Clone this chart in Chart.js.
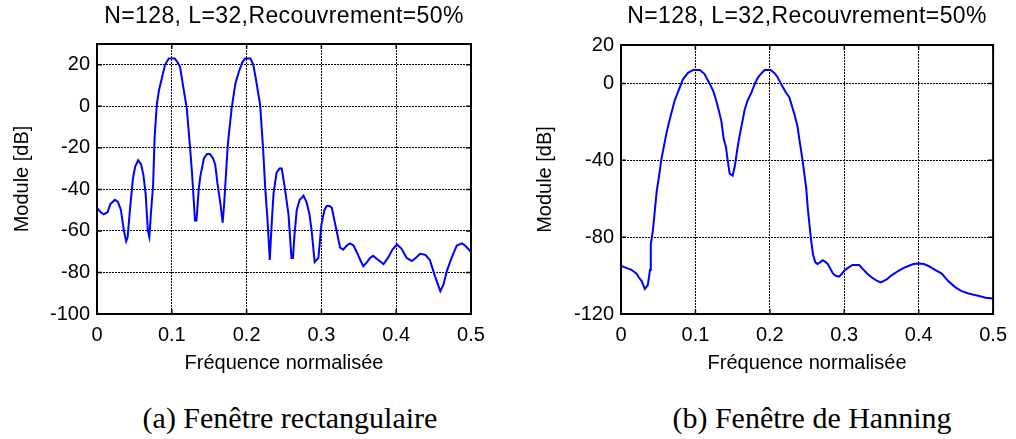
<!DOCTYPE html>
<html>
<head>
<meta charset="utf-8">
<script src="https://cdn.jsdelivr.net/npm/chart.js@4"></script>
<style>
  body { margin: 0; background: #fff; width: 1016px; height: 439px; overflow: hidden; position: relative; }
  .box { position: absolute; top: 0; }
  .caption {
    position: absolute; top: 403px; width: 400px; text-align: center;
    font-family: 'Liberation Serif', 'Times New Roman', serif; font-size: 30px; line-height: 30px; color: #000;
  }
</style>
</head>
<body>
<div class="box" style="left:0"><canvas id="chartA" width="508" height="390"></canvas></div>
<div class="box" style="left:508px"><canvas id="chartB" width="508" height="390"></canvas></div>
<div class="caption" style="left:90px">(a) Fenêtre rectangulaire</div>
<div class="caption" style="left:612px">(b) Fenêtre de Hanning</div>

<script>
// shared
const chartTitle = 'N=128, L=32,Recouvrement=50%';
const xTicks = [0, 0.1, 0.2, 0.3, 0.4, 0.5];

// (a) rectangular window
const freqA = [0, 0.005, 0.009, 0.014, 0.018, 0.024, 0.028, 0.032, 0.036, 0.039, 0.041, 0.044, 0.048, 0.051,
  0.055, 0.059, 0.062, 0.065, 0.068, 0.070, 0.072, 0.075, 0.077, 0.080, 0.083, 0.087, 0.091, 0.096, 0.104,
  0.108, 0.111, 0.115, 0.120, 0.124, 0.127, 0.131, 0.133, 0.136, 0.138, 0.143, 0.147, 0.151, 0.155, 0.158,
  0.161, 0.165, 0.168, 0.170, 0.172, 0.175, 0.180, 0.185, 0.190, 0.194, 0.198, 0.205, 0.209, 0.212, 0.218,
  0.222, 0.225, 0.228, 0.231, 0.233, 0.236, 0.240, 0.244, 0.247, 0.251, 0.256, 0.260, 0.262, 0.264, 0.267,
  0.271, 0.274, 0.276, 0.280, 0.284, 0.287, 0.291, 0.296, 0.300, 0.304, 0.307, 0.311, 0.314, 0.318, 0.325,
  0.329, 0.334, 0.338, 0.343, 0.347, 0.352, 0.356, 0.361, 0.365, 0.369, 0.376, 0.383, 0.389, 0.395, 0.401,
  0.407, 0.414, 0.421, 0.426, 0.432, 0.439, 0.445, 0.452, 0.459, 0.463, 0.468, 0.474, 0.481, 0.488, 0.492, 0.5];
const dbA = [-49, -51, -52, -51, -47, -45, -46, -50, -60, -65, -63, -50, -35, -29,
  -26, -28, -33, -42, -60, -63, -52, -38, -15, 1, 8, 14, 20, 23, 23,
  21, 19, 10, -1, -18, -32, -55, -55, -40, -34, -25, -23, -23, -25, -28,
  -37, -47, -56, -47, -35, -18, -1, 11, 17, 21, 23, 23, 20, 14, 1,
  -20, -40, -55, -74, -60, -42, -32, -30, -30, -39, -52, -73, -73, -62, -50,
  -45, -44, -43, -46, -52, -60, -75, -73, -57, -50, -48, -48, -49, -56, -68,
  -69, -67, -66, -67, -70, -74, -77, -75, -73, -72, -74, -76, -73, -69, -66.5,
  -68.5, -73, -74.5, -73, -71, -71.5, -74, -82, -89, -86, -79, -73, -67, -66, -67, -70];
const yTicksA = [-100, -80, -60, -40, -20, 0, 20];

// (b) Hanning window
const freqB = [0, 0.007, 0.014, 0.021, 0.024, 0.028, 0.032, 0.036, 0.039, 0.040, 0.043, 0.045, 0.048, 0.052,
  0.054, 0.058, 0.061, 0.066, 0.072, 0.079, 0.083, 0.090, 0.097, 0.106, 0.112, 0.119, 0.124, 0.128, 0.132,
  0.135, 0.138, 0.141, 0.143, 0.146, 0.150, 0.153, 0.156, 0.159, 0.163, 0.166, 0.170, 0.175, 0.180, 0.184,
  0.188, 0.193, 0.201, 0.206, 0.210, 0.216, 0.222, 0.226, 0.233, 0.237, 0.240, 0.244, 0.246, 0.249, 0.251,
  0.255, 0.258, 0.261, 0.264, 0.268, 0.271, 0.275, 0.278, 0.282, 0.285, 0.288, 0.293, 0.297, 0.300, 0.305,
  0.311, 0.320, 0.326, 0.331, 0.337, 0.343, 0.349, 0.357, 0.363, 0.373, 0.380, 0.386, 0.393, 0.400, 0.407,
  0.413, 0.422, 0.431, 0.440, 0.449, 0.457, 0.467, 0.474, 0.480, 0.490, 0.5];
const dbB = [-95, -96, -97, -99, -101, -103, -107, -105, -97, -84, -76, -68, -56, -46,
  -40, -32, -26, -18, -9, -2, 2, 5.5, 7, 7, 5, 0, -4, -9, -15,
  -20, -29, -33, -39, -47, -48, -43, -35, -28, -20, -14, -9, -5, 0, 3,
  5, 7, 7, 5.5, 3.5, -1, -5, -7, -16, -22, -30, -40, -46, -55, -65,
  -80, -89, -93, -94, -93, -92, -93, -94, -97, -99, -100, -100.6, -99, -97.5, -96,
  -94.5, -94.5, -97, -99, -101, -102.5, -103.5, -102, -100, -97.5, -96, -95, -94, -93.7, -94,
  -95, -97, -99, -103, -106, -108, -109.3, -110, -110.5, -111.5, -112];
const yTicksB = [-120, -80, -40, 0, 20];

const family = "'Liberation Sans', Arial, sans-serif";

// box, inward ticks and title, drawn like a MATLAB axes
const framePlugin = {
  id: 'frame',
  afterDraw(chart) {
    const { ctx, chartArea: a, scales } = chart;
    const tick = 5;
    ctx.save();
    ctx.strokeStyle = '#000';
    ctx.lineWidth = 1.5;
    ctx.beginPath();
    scales.x.ticks.forEach(t => {
      const px = scales.x.getPixelForValue(t.value);
      ctx.moveTo(px, a.top); ctx.lineTo(px, a.top + tick);
      ctx.moveTo(px, a.bottom); ctx.lineTo(px, a.bottom - tick);
    });
    scales.y.ticks.forEach(t => {
      const py = scales.y.getPixelForValue(t.value);
      ctx.moveTo(a.left, py); ctx.lineTo(a.left + tick, py);
      ctx.moveTo(a.right, py); ctx.lineTo(a.right - tick, py);
    });
    ctx.stroke();
    ctx.lineWidth = 2;
    ctx.strokeRect(a.left, a.top, a.right - a.left, a.bottom - a.top);

    ctx.fillStyle = '#000';
    ctx.font = '23px ' + family;
    ctx.letterSpacing = '0.4px';
    ctx.textAlign = 'center';
    ctx.textBaseline = 'middle';
    ctx.fillText(chart.options.plugins.frame.title, (a.left + a.right) / 2, 17);
    ctx.restore();
  }
};

function makeChart(id, freq, db, yMin, yMax, yTicks, axisWidth, padTop, padRight, yTitlePad) {
  const ctx = document.getElementById(id).getContext('2d');
  return new Chart(ctx, {
    type: 'line',
    data: {
      datasets: [{
        data: freq.map((f, i) => ({ x: f, y: db[i] })),
        borderColor: '#0000ff',
        borderWidth: 2,
        pointRadius: 0,
        tension: 0,
        fill: false
      }]
    },
    options: {
      responsive: false,
      animation: false,
      layout: { padding: { top: padTop, right: padRight, left: 0, bottom: 0 } },
      plugins: {
        legend: { display: false },
        tooltip: { enabled: false },
        frame: { title: chartTitle }
      },
      scales: {
        x: {
          type: 'linear',
          min: 0,
          max: 0.5,
          afterBuildTicks: s => { s.ticks = xTicks.map(v => ({ value: v })); },
          afterFit: s => { s.height = 76; },
          grid: { color: '#000', lineWidth: 1, drawTicks: false },
          border: { display: false, dash: [2, 1] },
          ticks: { padding: 9, color: '#000', font: { size: 20, family }, callback: v => String(v) },
          title: {
            display: true, text: 'Fréquence normalisée', color: '#000',
            font: { size: 20, family }, padding: { top: 0, bottom: 15 }
          }
        },
        y: {
          min: yMin,
          max: yMax,
          afterBuildTicks: s => { s.ticks = yTicks.map(v => ({ value: v })); },
          afterFit: s => { s.width = axisWidth; },
          grid: { color: '#000', lineWidth: 1, drawTicks: false },
          border: { display: false, dash: [2, 1] },
          ticks: { padding: 7, color: '#000', font: { size: 20, family } },
          title: {
            display: true, text: 'Module [dB]', color: '#000',
            font: { size: 20, family }, padding: { top: yTitlePad, bottom: 0 }
          }
        }
      }
    },
    plugins: [framePlugin]
  });
}

makeChart('chartA', freqA, dbA, -100, 30, yTicksA, 97, 44, 37, 10);
makeChart('chartB', freqB, dbB, -120, 20, yTicksB, 113, 45, 21, 25);
</script>
</body>
</html>
